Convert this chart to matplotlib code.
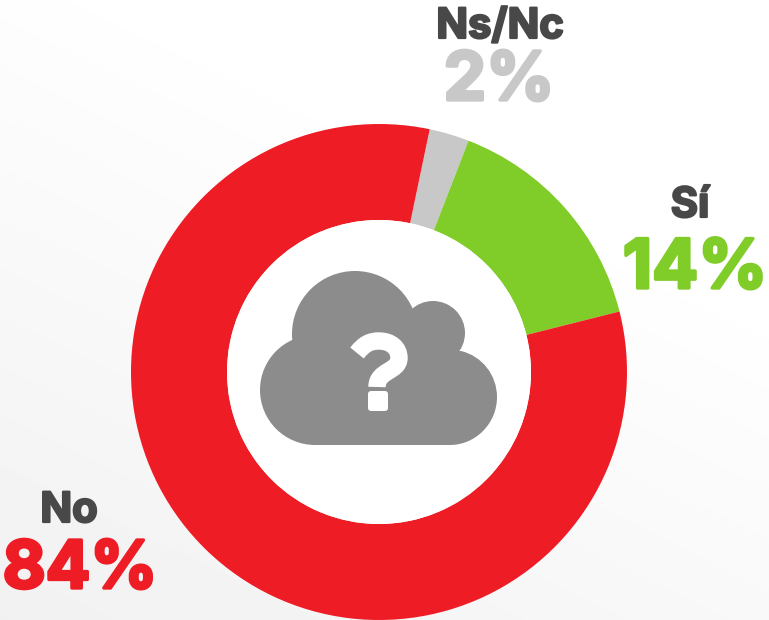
import numpy as np
import matplotlib
matplotlib.use("Agg")
import matplotlib.pyplot as plt
import matplotlib.patheffects as pe
from matplotlib.patches import Circle, Rectangle, PathPatch, FancyBboxPatch
from matplotlib.path import Path

# shares as drawn in the ring (the printed labels are rounded differently)
categories = ["Ns/Nc", "Sí", "No"]
ring_shares = [2.6, 15.2, 82.2]
labels_pct = ["2%", "14%", "84%"]
colors = ["#c8c8c8", "#80cc28", "#ee1c25"]

DARK = "#484848"
CLOUD = "#8c8c8c"
FONT = "Inter"

W, H = 769, 620
fig = plt.figure(figsize=(W / 100, H / 100), dpi=100)

# page background, grey in the bottom left corner fading to white
bg = fig.add_axes([0, 0, 1, 1])
gx, gy = np.meshgrid(np.linspace(0, 1, 200), np.linspace(0, 1, 200))
shade = np.clip(0.75 * gy - 0.45 * gx + 0.1, 0, 1)
bg.imshow(1 - 0.055 * shade / 0.85, cmap="gray", vmin=0, vmax=1, aspect="auto", interpolation="bilinear")
bg.axis("off")

# ring
cx, cy, r_out, r_in = 379, 372, 248, 152
ax = fig.add_axes([(cx - r_out) / W, 1 - (cy + r_out) / H, 2 * r_out / W, 2 * r_out / H])
ax.pie(ring_shares, colors=colors, startangle=78.2, counterclock=False, radius=1,
       wedgeprops=dict(width=1 - r_in / r_out, linewidth=0))
ax.set_xlim(-1, 1)
ax.set_ylim(-1, 1)

# overlay in pixel coordinates for the icon and the labels
top = fig.add_axes([0, 0, 1, 1])
top.set_xlim(0, W)
top.set_ylim(H, 0)
top.axis("off")
top.add_patch(Circle((cx, cy), r_in, fc="white", ec="none"))

# cloud icon
top.add_patch(Circle((355, 334), 63, fc=CLOUD, ec="none"))
top.add_patch(Circle((433, 333), 32, fc=CLOUD, ec="none"))
top.add_patch(Circle((315, 390), 55, fc=CLOUD, ec="none"))
top.add_patch(Rectangle((315, 335), 135, 110, fc=CLOUD, ec="none"))
right_lobe = Path(
    [(461, 351), (482, 356), (497, 375), (497, 397), (497, 424), (475, 445), (450, 445),
     (400, 445), (400, 351), (461, 351)],
    [Path.MOVETO, Path.CURVE4, Path.CURVE4, Path.CURVE4, Path.CURVE4, Path.CURVE4, Path.CURVE4,
     Path.LINETO, Path.LINETO, Path.CLOSEPOLY])
top.add_patch(PathPatch(right_lobe, fc=CLOUD, ec="none"))

# question mark
hook = Path(
    [(357, 353), (364, 344), (370, 341), (379, 341), (391, 341), (399, 348), (399, 358),
     (399, 372), (377, 370), (377, 387)],
    [Path.MOVETO, Path.CURVE4, Path.CURVE4, Path.CURVE4, Path.CURVE4, Path.CURVE4, Path.CURVE4,
     Path.CURVE4, Path.CURVE4, Path.CURVE4])
top.add_patch(PathPatch(hook, fc="none", ec="white", lw=12.5, capstyle="butt"))
top.add_patch(FancyBboxPatch((370, 393), 16, 16, boxstyle="round,pad=2,rounding_size=3", fc="white", ec="none"))


def label(x, y, s, color, size, stroke=1.6):
    t = top.text(x, y, s, color=color, fontsize=size, family=FONT, fontweight="bold",
                 ha="center", va="baseline")
    t.set_path_effects([pe.withStroke(linewidth=stroke, foreground=color)])


label(500, 38, categories[0], DARK, 30)
label(499, 100, labels_pct[0], colors[0], 48.5, 2.4)
label(690, 217, categories[1], DARK, 30)
label(695, 288, labels_pct[1], colors[1], 49, 2.4)
label(69, 522, categories[2], DARK, 30)
label(80, 588, labels_pct[2], colors[2], 47.5, 2.4)

fig.savefig("out.png", dpi=100)
